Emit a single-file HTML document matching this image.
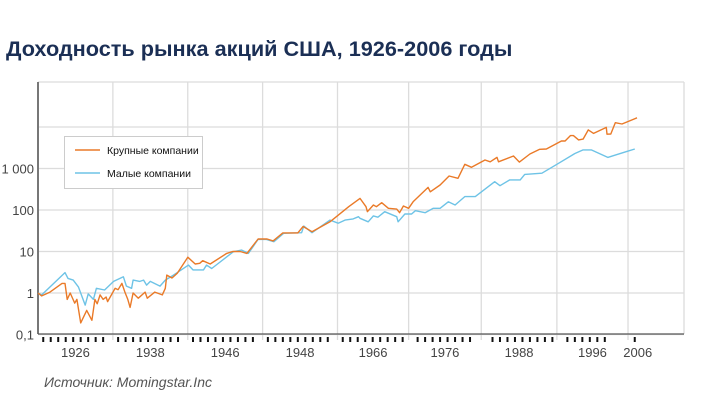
<!DOCTYPE html>
<html><head><meta charset="utf-8">
<style>
body{margin:0;background:#fff;width:721px;height:406px;overflow:hidden;font-family:"Liberation Sans",sans-serif}
#title{position:absolute;left:6px;top:36px;font-size:21.7px;font-weight:bold;color:#1b2f55;white-space:nowrap}
#source{position:absolute;left:44px;top:374px;font-size:14px;font-style:italic;color:#555}
svg{position:absolute;left:0;top:0}
</style></head><body>
<div id="title">Доходность рынка акций США, 1926-2006 годы</div>
<svg id="chart" width="721" height="406"></svg>
<div id="source">Источник: Momingstar.Inc</div>
<script>
const largeYears=[1926,1926.5,1927.6,1929.2,1929.6,1929.9,1930.3,1930.9,1931.2,1931.7,1932.5,1933.2,1933.6,1933.9,1934.3,1934.7,1935.1,1935.3,1936.3,1936.7,1937.2,1937.6,1938,1938.3,1938.7,1939.4,1940.3,1940.6,1941.6,1942.6,1943,1943.2,1943.9,1944.6,1946,1947,1947.6,1948,1949,1951.2,1952,1953,1953.9,1955.4,1956.6,1957.4,1958.7,1960.7,1961.4,1962.6,1965,1966.1,1967.5,1969,1969.8,1970,1970.8,1971.2,1971.9,1972.8,1973.9,1974.3,1974.8,1975.5,1976.1,1978.1,1978.4,1979.7,1980.9,1982.1,1983,1983.9,1985.7,1986.4,1987.3,1987.5,1989.5,1990.3,1991.7,1993,1993.9,1995.9,1996.4,1997.1,1997.5,1998.2,1998.8,1999.5,2000.2,2001.9,2002,2002.5,2003.1,2004,2006];
const largeValues=[1,0.85,1.05,1.7,1.7,0.7,1.0,0.57,0.7,0.19,0.38,0.22,0.7,0.55,0.9,0.7,0.8,0.62,1.3,1.2,1.7,1.05,0.7,0.45,1.0,0.75,1.05,0.75,1.05,0.9,1.3,2.7,2.3,3.0,7.3,5.0,5.2,6,5,9,10,10,9,20,20,18,28,28,40,30,52,75,120,190,120,91,132,120,150,110,105,86,125,110,158,350,275,400,660,580,1260,1070,1600,1450,1850,1450,2000,1430,2230,2900,2950,4600,4600,6200,6200,4900,5100,8500,7000,9800,6700,6800,12700,11800,16700];
const smallYears=[1926,1926.5,1929.6,1930,1930.7,1931.4,1932.3,1932.7,1933.4,1933.8,1934.9,1936.1,1937.4,1937.8,1938.5,1938.7,1939.6,1940.1,1940.5,1941,1942.3,1943,1944.1,1946.1,1946.7,1948.1,1948.5,1949.2,1952.1,1953.2,1954.1,1955.4,1956.5,1957.5,1958.8,1961.2,1961.5,1962.6,1965,1966.1,1967,1968.1,1968.8,1969,1970.1,1970.8,1971.4,1972.3,1973.9,1974.1,1975,1975.9,1976.4,1977.7,1978.8,1979.7,1980.8,1981.7,1983,1984.4,1987,1987.7,1989,1990.4,1991,1993.3,1995.3,1997.7,1998.8,1999.9,2002.1,2003.1,2004.6,2005.7];
const smallValues=[1,0.9,3.1,2.25,2.05,1.4,0.51,0.95,0.7,1.3,1.18,1.9,2.45,1.47,1.3,2.05,1.9,2.05,1.55,1.9,1.47,2.05,2.7,4.7,3.6,3.6,4.7,3.9,9.9,10.8,9,19.6,19.6,17.2,27.5,28.4,41,28.4,57,48,57,61,69,63,52,72,67,91,69,52,80,80,96,86,110,110,158,132,210,210,480,385,530,530,720,770,1260,2300,2800,2800,1850,2100,2550,2950];
const yTickValues=[0.1,1,10,100,1000,10000];
const yTickLabels=["0,1","1","10","100","1 000",""];
const xLabels=["1926","1938","1946","1948","1966","1976","1988","1996","2006"];
const gridYears=[1936,1946,1956,1966,1975.5,1985.2,1995.3,2004.8];

const L=38,R=684,T=82,B=334;
const x=y=>L+(y-1926)*7.4875;
const yS=v=>293-Math.log10(v)*41.5;
const svg=document.getElementById('chart');
const NS='http://www.w3.org/2000/svg';
function mk(tag,attrs,parent){const e=document.createElementNS(NS,tag);for(const k in attrs)e.setAttribute(k,attrs[k]);(parent||svg).appendChild(e);return e;}

yTickValues.forEach((v,i)=>{
  const g=mk('line',{x1:L,x2:R,y1:yS(v),y2:yS(v),stroke:'#dcdcdc','stroke-width':1.3});
  
  
  if(yTickLabels[i]){
    const t=mk('text',{x:34,y:yS(v)+5,'text-anchor':'end','font-size':13,fill:'#444'});
    t.textContent=yTickLabels[i];
    
    
  }
});
const tf=mk('line',{x1:L,x2:R,y1:T,y2:T,stroke:'#dcdcdc','stroke-width':1.3});


const rf=mk('line',{x1:R,x2:R,y1:T,y2:B,stroke:'#dcdcdc','stroke-width':1.3});


gridYears.forEach(g=>{
  const l=mk('line',{x1:x(g),x2:x(g),y1:T,y2:B+6,stroke:'#dcdcdc','stroke-width':1.3});
  
  
});
const ya=mk('line',{x1:L,x2:L,y1:T,y2:B,stroke:'#777','stroke-width':2});


const xa=mk('line',{x1:L,x2:R,y1:B,y2:B,stroke:'#555','stroke-width':1.3});


for(let yr=1927;yr<=2006;yr++){
  const px=x(yr-0.3);
  if(gridYears.some(g=>Math.abs(x(g)-px)<4))continue;
  if(yr>2002&&yr<2006)continue;
  const t=mk('line',{x1:px,x2:px,y1:B+3,y2:B+8,stroke:'#111','stroke-width':2});
  
  
}
const bounds=[1926].concat(gridYears);
xLabels.forEach((lab,i)=>{
  const cx=i<bounds.length-1?(x(bounds[i])+x(bounds[i+1]))/2:x(2006.1);
  const t=mk('text',{x:cx,y:B+23,'text-anchor':'middle','font-size':13,fill:'#444'});
  t.textContent=lab;
  
  
});
function line(xs,vs,color,name){
  const d=xs.map((yr,i)=>(i?'L':'M')+x(yr).toFixed(1)+','+yS(vs[i]).toFixed(1)).join('');
  const p=mk('path',{d:d,fill:'none',stroke:color,'stroke-width':1.4,'stroke-linejoin':'round'});
  
  
}
line(smallYears,smallValues,'#6ec3e6','small-companies-line');
line(largeYears,largeValues,'#ea7a28','large-companies-line');
const lg=mk('g',{});


mk('rect',{x:64.5,y:136.5,width:138,height:52,fill:'#fff',stroke:'#ccc'},lg);
[['Крупные компании','#ea7a28',150],['Малые компании','#6ec3e6',173]].forEach(e=>{
  const l=mk('line',{x1:75,x2:100,y1:e[2],y2:e[2],stroke:e[1],'stroke-width':1.6},lg);
  
  
  const t=mk('text',{x:107,y:e[2]+4,'font-size':10.5,fill:'#111'},lg);
  t.textContent=e[0];
  
  
});
</script>
</body></html>
